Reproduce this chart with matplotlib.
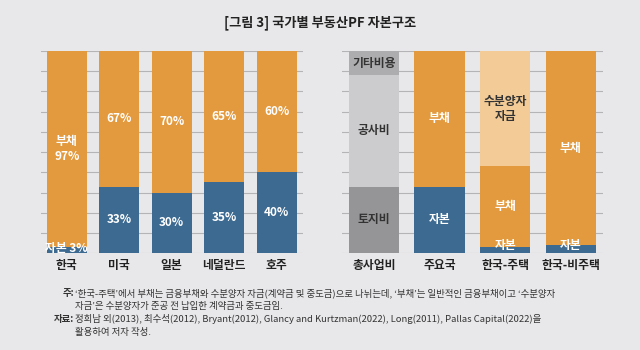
import numpy as np
import matplotlib.pyplot as plt

plt.rcParams['font.family'] = ['Noto Sans CJK KR', 'DejaVu Sans']

# left panel: countries
countries = ['한국', '미국', '일본', '네덜란드', '호주']
equity = [3, 33, 30, 35, 40]
debt = [97, 67, 70, 65, 60]

# right panel: cost structure
right_cats = ['총사업비', '주요국', '한국-주택', '한국-비주택']
land, build, other = 33, 55, 12
r_equity = [33, 3, 4]
r_debt = [67, 40, 96]
presale = 57

bg = '#E8E8EA'
orange = '#E39A3F'
blue = '#3D6A91'
lorange = '#F2CB96'
dgray = '#959597'
lgray = '#CCCCCE'
mgray = '#ADADAF'
grid = '#B4B4B6'

fig = plt.figure(figsize=(6.4, 3.5), dpi=100, facecolor=bg)

def style(ax, xlim):
    ax.set_facecolor(bg)
    ax.set_ylim(0, 100)
    ax.set_xlim(*xlim)
    ax.set_yticks(np.arange(0, 101, 10))
    ax.yaxis.grid(True, color=grid, linewidth=0.8)
    ax.set_axisbelow(True)
    for s in ax.spines.values():
        s.set_visible(False)
    ax.tick_params(axis='y', left=False, labelleft=False)
    ax.tick_params(axis='x', length=0, pad=4)
    for lbl in ax.get_xticklabels():
        lbl.set_fontsize(8.5)
        lbl.set_fontweight('bold')
        lbl.set_color('#222222')

# left panel
ax1 = fig.add_axes([41/640, 96.7/350, 262/640, 202.3/350])
x = np.arange(len(countries))
ax1.bar(x, equity, width=0.76, color=blue)
ax1.bar(x, debt, width=0.76, bottom=equity, color=orange)
ax1.set_xticks(x, countries)
style(ax1, (-0.49, 4.5))
tk = dict(color='white', fontsize=8.5, fontweight='bold', ha='center', va='center')
for i in range(len(countries)):
    if i == 0:
        ax1.text(i, equity[i] + debt[i] / 2, '부채\n%d%%' % debt[i], linespacing=1.2, **tk)
        ax1.text(i, 2.2, '자본 %d%%' % equity[i], **tk)
    else:
        ax1.text(i, equity[i] + debt[i] / 2, '%d%%' % debt[i], **tk)
        ax1.text(i, equity[i] / 2, '%d%%' % equity[i], **tk)

# right panel
ax2 = fig.add_axes([341.7/640, 96.7/350, 261.3/640, 202.3/350])
w = 0.77
ax2.bar(0, land, width=w, color=dgray)
ax2.bar(0, build, width=w, bottom=land, color=lgray)
ax2.bar(0, other, width=w, bottom=land + build, color=mgray)
xr = np.arange(1, 4)
ax2.bar(xr, r_equity, width=w, color=blue)
ax2.bar(xr, r_debt, width=w, bottom=r_equity, color=orange)
ax2.bar(2, presale, width=w, bottom=r_equity[1] + r_debt[1], color=lorange)
ax2.set_xticks(np.arange(4), right_cats)
style(ax2, (-0.49, 3.49))
dk = dict(color='#333333', fontsize=8.5, fontweight='bold', ha='center', va='center')
ax2.text(0, land / 2, '토지비', **dk)
ax2.text(0, land + build / 2, '공사비', **dk)
ax2.text(0, land + build + other / 2, '기타비용', **dk)
ax2.text(1, r_equity[0] + r_debt[0] / 2, '부채', **tk)
ax2.text(1, r_equity[0] / 2, '자본', **tk)
ax2.text(2, r_equity[1] + r_debt[1] + presale / 2, '수분양자\n자금', color='#333333',
         fontsize=8.5, fontweight='bold', ha='center', va='center', linespacing=1.2)
ax2.text(2, r_equity[1] + r_debt[1] / 2, '부채', **tk)
ax2.text(2, 4, '자본', **tk)
ax2.text(3, r_equity[2] + r_debt[2] / 2, '부채', **tk)
ax2.text(3, 4, '자본', **tk)

# title and notes
fig.text(0.5, 1 - 23/350, '[그림 3] 국가별 부동산PF 자본구조', ha='center', va='center',
         fontsize=9.5, fontweight='bold', color='#222222')
nk = dict(fontsize=6.8, color='#333333', va='baseline')
fig.text(74/640, 1 - 296/350, '주:', ha='right', fontweight='bold', **nk)
fig.text(75/640, 1 - 296/350,
         "‘한국-주택’에서 부채는 금융부채와 수분양자 자금(계약금 및 중도금)으로 나뉘는데, ‘부채’는 일반적인 금융부채이고 ‘수분양자",
         **nk)
fig.text(75/640, 1 - 309/350, "자금’은 수분양자가 준공 전 납입한 계약금과 중도금임.", **nk)
fig.text(74/640, 1 - 322/350, '자료:', ha='right', fontweight='bold', **nk)
fig.text(75/640, 1 - 322/350,
         '정희남 외(2013), 최수석(2012), Bryant(2012), Glancy and Kurtzman(2022), Long(2011), Pallas Capital(2022)을',
         **nk)
fig.text(75/640, 1 - 335/350, '활용하여 저자 작성.', **nk)

fig.savefig('out.png', dpi=100, facecolor=bg)
